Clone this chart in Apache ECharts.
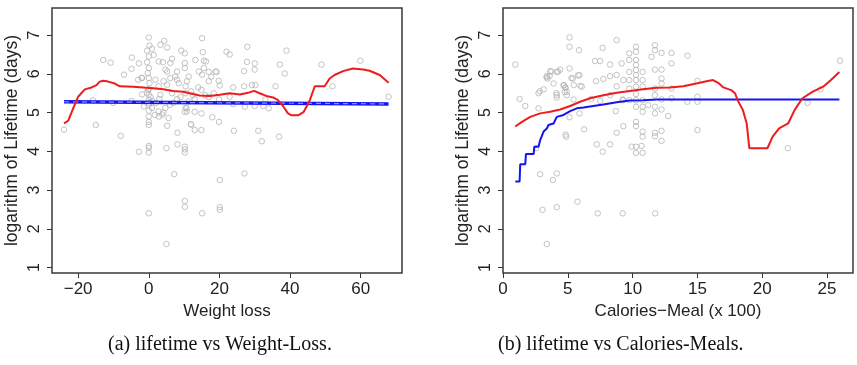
<!DOCTYPE html>
<html><head><meta charset="utf-8">
<script src="https://cdn.jsdelivr.net/npm/echarts@6/dist/echarts.min.js"></script>
<style>html,body{margin:0;padding:0;background:#fff}#c{width:857px;height:365px}</style>
</head><body><div id="c"></div>
<script>
// ---- data ----
const yTicks = [1, 2, 3, 4, 5, 6, 7];
const wlTicks = [-20, 0, 20, 40, 60];
const calTicks = [0, 5, 10, 15, 20, 25];

// (weight loss, log lifetime)
const wlPoints = [
[-24,4.56],[-15,4.68],[-12.9,6.36],[-10.8,6.29],[-7.9,4.4],[-15.8,5.32],[-10.1,5.25],[-4.8,6.42],[-2.8,6.27],[-4.9,6.13],[-7,5.98],[-2.8,3.99],[-4.9,5.3],[-3,5.85],[-2,5.9],[-1.9,5.47],[-1.4,5.16],
[0,6.94],[0.2,6.73],[-0.5,6.6],[0.9,6.65],[0,6.45],[1.4,6.49],[-0.5,6.3],[0,6.15],[-0.3,6.02],[0,5.89],[0.2,5.76],[-1.9,5.89],[-0.2,5.59],[0,5.46],[0,5.33],[0,5.2],[0.9,5.12],[0,5.05],[0,4.9],[0,4.76],[0,4.68],[0,4.14],[0,4.09],[0,3.97],[0,2.4],[0,5.6],[0,5.25],[0.5,5.4],[-0.5,5.52],[1,5.3],
[3.3,6.75],[4.4,6.85],[5.2,6.68],[2.8,6.32],[4.7,6.11],[4,6.3],[6.1,6.28],[6.6,6.39],[5.2,6.06],[6.1,5.89],[1.9,5.85],[2.8,5.68],[4.2,5.81],[5.2,5.72],[3.3,5.46],[6.6,5.5],[2.8,5.03],[3.8,4.95],[4.7,5.12],[5.2,4.66],[5.6,4.86],[1.7,4.94],[2.9,4.9],[4.1,5.0],[5,4.08],[5,1.61],[7.2,3.41],[8.1,4.18],[8.1,4.48],
[8,6.06],[7.5,5.93],[8.5,5.76],[8,5.85],[9.2,6.6],[10.2,6.53],[10.2,6.28],[10.2,6.15],[11.3,5.93],[10.8,5.81],[10.4,5.68],[10.4,5.5],[11.3,5.29],[10.4,5.12],[10.8,5.03],[10.2,5.02],[10.7,5.11],[10.2,4.12],[10.2,4.05],[10.2,3.97],[10.2,2.72],[10.2,2.57],
[12,4.69],[11.9,4.7],[13,4.55],[13,5.02],[13.2,6.36],[14.2,6.06],[15.1,6.92],[15.3,6.56],[15.6,6.34],[16.2,6.32],[15.6,6.15],[15.1,5.98],[14.9,5.59],[14.9,4.98],[14.9,4.55],[15.1,2.4],[17,6.05],[17.7,5.93],[17,5.81],[18.4,5.5],[18.9,6.06],[19.8,5.82],[20.1,5.7],[18,4.88],[19.9,4.76],[19.2,6.05],[19.9,5.34],[20.1,3.26],[20.1,2.56],[20.1,2.49],
[22,6.57],[22.9,6.5],[23.9,5.65],[22.9,5.41],[23.9,5.22],[24.1,4.53],[27.2,5.15],[27,5.68],[29.2,5.71],[30.2,5.71],[27,6.07],[27.8,6.31],[30,6.27],[30,6.11],[27.9,6.7],[30,5.17],[32.4,5.17],[34,5.11],[33,5.34],[31,4.53],[32,4.26],[27.1,3.43],[36.9,4.38],[35.9,5.68],[38.5,6.01],[37.1,6.24],[39,6.6],[48.9,6.24],[59.9,6.34],[52,5.68],[67.9,5.41],
[12,5.55],[13,5.35],[9,5.4],[7,5.25],[6,5.2],[8,5.35],[2,5.25],[3,5.35],[12.5,5.45],[14,5.65],[16,5.45],[17,5.4]
];
// loess-type smooth (red) and linear fit (blue), weight loss panel
const wlSmooth = [
[-24,4.72],[-22.8,4.79],[-21.4,5.11],[-20,5.41],[-18.1,5.6],[-16.2,5.65],[-14.8,5.71],[-13.9,5.8],[-12.9,5.82],[-11.5,5.8],[-9.6,5.75],[-8.2,5.68],[-4.4,5.67],[-1.6,5.65],[1.2,5.63],[4.1,5.6],[6.9,5.56],[9.7,5.54],[12.5,5.48],[14.4,5.44],[17.3,5.43],[20.1,5.46],[22.9,5.5],[25.8,5.47],[28.1,5.51],[29.8,5.56],[31.4,5.5],[33.3,5.43],[35.2,5.39],[36.6,5.32],[38,5.17],[39.4,4.98],[40.4,4.93],[42.3,4.93],[43.9,5.02],[45.6,5.32],[47,5.68],[49.8,5.68],[51.2,5.88],[52.6,5.97],[55,6.07],[57.8,6.14],[60.7,6.11],[62.5,6.08],[65.4,5.97],[67.9,5.77]
];
const wlFit = [[-24,5.28],[67.9,5.225]];

// (calories per meal /100, log lifetime)
const calPoints = [
[0.95,6.24],[1.28,5.35],[1.72,5.17],[2.74,5.11],[2.74,5.5],[3.13,5.6],[3.38,5.94],[3.64,6.07],[3.44,5.88],[4.15,6.05],[4.41,6.11],[3.9,5.75],[4.15,5.45],[4.15,5.39],[4.67,5.71],[4.8,5.65],[4.92,5.54],[4.92,5.45],[5.13,6.14],[5.13,6.94],[5.13,6.7],[5.87,6.61],[5.38,5.88],[5.9,5.97],[6.08,5.67],[5.44,5.34],[5.13,4.88],[5.9,4.98],[6.26,4.57],[4.87,4.38],
[2.84,5.55],[3.36,5.91],[3.74,6.06],[4.25,6.06],[3.6,5.95],[4.12,5.5],[4.7,5.7],[4.83,5.64],[4.76,5.53],[5.28,5.89],[5.79,5.96],[5.46,5.71],[5.97,5.69],[4.83,4.43],
[7.1,6.33],[7.49,6.33],[7.69,6.67],[8.26,6.24],[8.77,6.87],[7.74,5.87],[7.18,5.81],[8.26,5.94],[8.77,5.97],[9.15,6.27],[9.74,6.36],[9.74,6.53],[8.26,5.45],[8.77,5.68],[9.23,5.34],[8.7,5.04],[7.5,5.3],[6.8,5.35],
[10.26,6.7],[10.26,6.57],[10.26,6.36],[10.26,6.23],[10.26,6.1],[10.26,5.97],[10.26,5.84],[10.26,5.67],[10.26,5.48],[10.26,5.32],[10.26,5.15],[9.74,6.05],[9.74,5.84],[9.74,5.62],[9.74,5.32],[9.28,5.84],[9.28,5.32],[10.77,6.05],[10.77,5.84],[10.77,5.67],[10.77,5.32],[10.77,5.15],[10.77,5.02],
[11.46,6.44],[11.72,6.74],[11.72,6.61],[12.23,6.54],[13,6.54],[13,6.27],[14.23,6.47],[12.23,6.11],[11.72,6.11],[12.23,5.88],[12.23,5.75],[11.72,5.62],[11.72,5.45],[12.23,5.34],[13,5.62],[13,5.37],[11.2,5.19],[11.72,5.15],[12.23,5.08],[11.72,4.98],[12.74,4.91],[14.23,5.28],[15,5.82],[15,5.41],[15,5.28],[15,4.55],
[21.97,4.08],[24.5,5.6],[23.5,5.25],[26,6.34],
[9.28,4.65],[8.77,4.48],[10.77,4.51],[10.77,4.38],[10.26,4.76],[10.26,4.65],[10.69,4.14],[10.26,4.12],[9.92,4.12],[10.26,3.96],[10.77,3.96],[11.72,4.48],[11.72,4.39],[12.23,4.53],[12.23,4.27],[7.23,4.18],[7.69,3.99],[8.26,4.18],
[2.56,4.08],[2.87,3.41],[3.85,3.26],[4.15,3.43],[3.05,2.49],[4.15,2.56],[5.74,2.7],[7.31,2.4],[9.23,2.4],[11.74,2.4],[3.38,1.61]
];
const calSmooth = [
[0.95,4.64],[1.46,4.76],[2.1,4.89],[2.87,4.98],[3.64,5.02],[4.41,5.08],[5.18,5.17],[5.95,5.28],[6.72,5.37],[7.74,5.45],[8.77,5.51],[9.79,5.56],[10.8,5.6],[11.85,5.64],[12.87,5.65],[13.9,5.68],[14.92,5.75],[15.7,5.81],[16.2,5.84],[16.6,5.77],[17,5.65],[17.6,5.58],[17.9,5.5],[18.1,5.32],[18.5,5.07],[18.8,4.72],[19.0,4.08],[20.4,4.08],[20.8,4.38],[21.3,4.59],[22,4.72],[22.5,5.07],[23.1,5.37],[23.9,5.54],[24.7,5.67],[25.3,5.84],[25.95,6.05]
];
const calIsotonic = [
[0.95,3.22],[1.28,3.22],[1.33,3.67],[1.72,3.67],[1.77,3.93],[2.36,3.93],[2.42,4.12],[2.74,4.12],[2.87,4.29],[3.13,4.51],[3.38,4.59],[3.51,4.68],[3.9,4.72],[4.15,4.89],[4.67,4.94],[5.18,5.04],[5.69,5.11],[6.2,5.13],[6.97,5.17],[7.74,5.21],[8.77,5.27],[9.79,5.31],[10.8,5.32],[11.85,5.34],[12.9,5.34],[25.95,5.34]
];

// ---- chart ----
const SANS = '"Liberation Sans", Arial, Helvetica, sans-serif';
const GRAY = '#b4b4b4';
function xAxisCfg(idx, min, max, ticks, name) {
  return {
    type: 'value', gridIndex: idx, min: min, max: max, position: 'bottom',
    name: name, nameLocation: 'middle', nameGap: 26,
    nameTextStyle: { fontFamily: SANS, fontSize: 17, color: '#222' },
    axisLine: { show: false, onZero: false },
    axisTick: { show: true, inside: false, length: 5, customValues: ticks, lineStyle: { color: '#333', width: 1 } },
    axisLabel: { customValues: ticks, margin: 8, fontFamily: SANS, fontSize: 17, color: '#222',
      formatter: v => (v < 0 ? '\u2212' + Math.abs(v) : String(v)) },
    splitLine: { show: false }
  };
}
function yAxisCfg(idx) {
  return {
    type: 'value', gridIndex: idx, min: 0.86, max: 7.7, position: 'left',
    name: 'logarithm of Lifetime (days)', nameLocation: 'middle', nameGap: 31,
    nameTextStyle: { fontFamily: SANS, fontSize: 17.5, color: '#222' },
    axisLine: { show: false, onZero: false },
    axisTick: { show: true, inside: false, length: 5, customValues: yTicks, lineStyle: { color: '#333', width: 1 } },
    axisLabel: { customValues: yTicks, rotate: 90, margin: 9, fontFamily: SANS, fontSize: 16, color: '#222' },
    splitLine: { show: false }
  };
}
const gridStyle = { show: true, borderColor: '#3a3a3a', borderWidth: 1.5, backgroundColor: 'transparent', containLabel: false };
const scatterStyle = { color: 'rgba(0,0,0,0)', borderColor: GRAY, borderWidth: 1 };

const chart = echarts.init(document.getElementById('c'), null, { renderer: 'canvas' });
chart.setOption({
  animation: false,
  backgroundColor: '#fff',
  grid: [
    Object.assign({ left: 52, top: 8, width: 350, height: 265 }, gridStyle),
    Object.assign({ left: 503, top: 8, width: 350, height: 265 }, gridStyle)
  ],
  xAxis: [
    xAxisCfg(0, -27.4, 71.7, wlTicks, 'Weight loss'),
    xAxisCfg(1, 0, 27, calTicks, 'Calories\u2212Meal (x 100)')
  ],
  yAxis: [yAxisCfg(0), yAxisCfg(1)],
  series: [
    { type: 'scatter', xAxisIndex: 0, yAxisIndex: 0, data: wlPoints, symbol: 'circle', symbolSize: 5.5, itemStyle: scatterStyle, z: 1 },
    { type: 'line', xAxisIndex: 0, yAxisIndex: 0, data: wlFit, showSymbol: false, lineStyle: { color: '#1515f0', width: 3.5 }, z: 3 },
    { type: 'line', xAxisIndex: 0, yAxisIndex: 0, data: wlFit, showSymbol: false, lineStyle: { color: '#8d8dff', width: 1.2, type: [5, 4] }, z: 4 },
    { type: 'line', xAxisIndex: 0, yAxisIndex: 0, data: wlSmooth, showSymbol: false, lineStyle: { color: '#ee1c1c', width: 2 }, z: 5 },
    { type: 'scatter', xAxisIndex: 1, yAxisIndex: 1, data: calPoints, symbol: 'circle', symbolSize: 5.5, itemStyle: scatterStyle, z: 1 },
    { type: 'line', xAxisIndex: 1, yAxisIndex: 1, data: calIsotonic, showSymbol: false, lineStyle: { color: '#1515f0', width: 2 }, z: 3 },
    { type: 'line', xAxisIndex: 1, yAxisIndex: 1, data: calSmooth, showSymbol: false, lineStyle: { color: '#ee1c1c', width: 2 }, z: 5 }
  ],
  graphic: [
    { type: 'text', left: 108, top: 335, style: { text: '(a) lifetime vs Weight-Loss.', font: '20px "Liberation Serif", "DejaVu Serif", serif', fill: '#111' } },
    { type: 'text', left: 498, top: 335, style: { text: '(b) lifetime vs Calories-Meals.', font: '20px "Liberation Serif", "DejaVu Serif", serif', fill: '#111' } }
  ]
});
</script></body></html>
